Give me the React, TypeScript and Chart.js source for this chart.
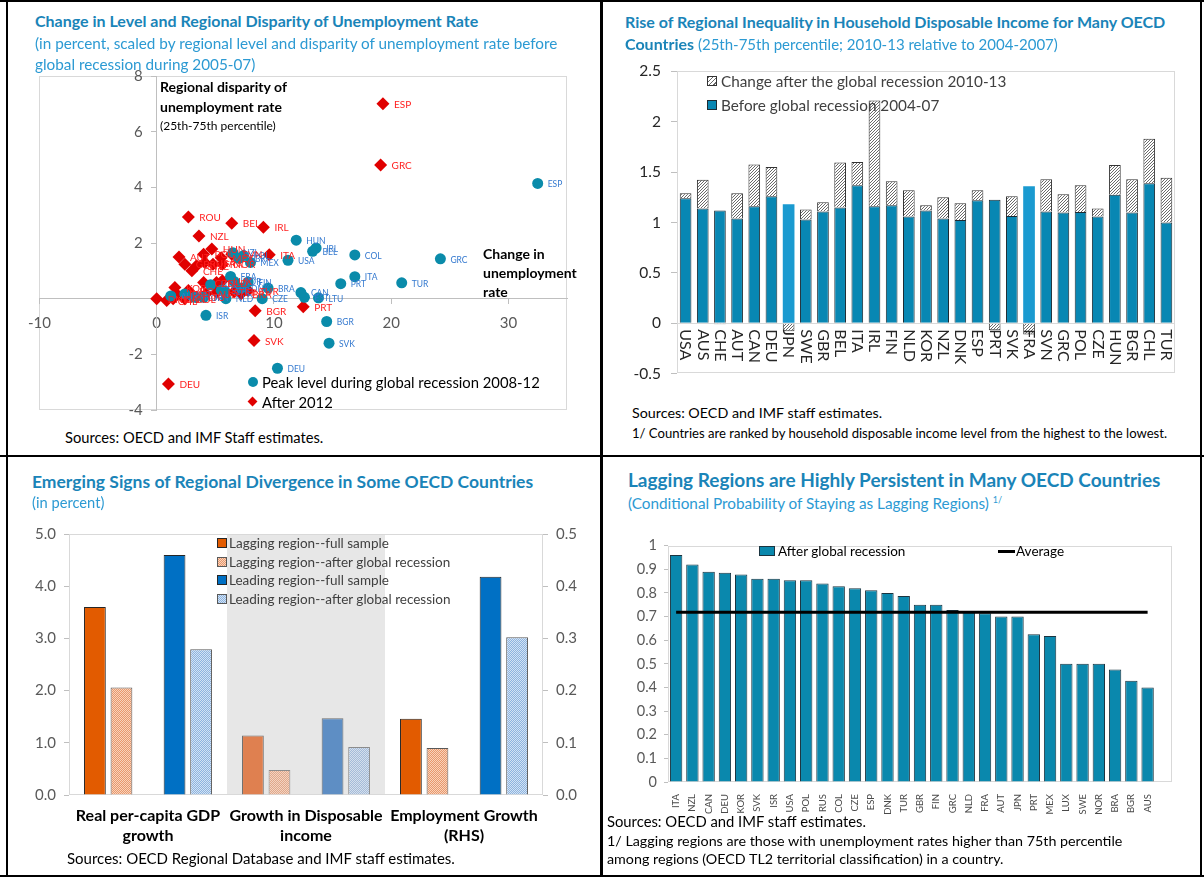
import React, { useEffect, useRef } from 'react';
import { Chart, registerables } from 'chart.js';

Chart.register(...registerables);

const FONT = 'Lato, "Open Sans", sans-serif';
const TITLE_BLUE = '#1A84B8';
const SUB_BLUE = '#2C9AD3';

// ---------------- Panel 1: scatter ----------------
const peakCountries = ['ESP', 'GRC', 'TUR', 'COL', 'ITA', 'PRT', 'HUN', 'IRL', 'BEL', 'USA', 'LTU', 'EST', 'CAN', 'BRA', 'CZE', 'FIN', 'MEX', 'NZL', 'POL', 'GBR', 'NLD', 'JPN', 'SWE', 'KOR', 'CHE', 'DNK', 'FRA', 'AUT', 'AUS', 'NOR', 'LUX', 'ISR', 'BGR', 'SVK', 'DEU'];
const peakChange = [32.5, 24.2, 20.9, 16.9, 16.9, 15.7, 11.9, 13.6, 13.3, 11.2, 13.8, 12.6, 12.3, 9.5, 9.0, 7.8, 8.0, 6.5, 7.4, 7.0, 5.9, 4.0, 5.5, 6.6, 5.8, 7.2, 6.3, 2.4, 1.2, 3.2, 4.6, 4.2, 14.5, 14.7, 10.3];
const peakDisparity = [4.14, 1.43, 0.57, 1.57, 0.79, 0.54, 2.1, 1.82, 1.7, 1.38, 0.03, 0.05, 0.22, 0.38, 0.0, 0.6, 1.3, 1.65, 1.55, 1.45, 0.0, 0.05, 0.3, 0.62, 0.28, 0.38, 0.8, 0.17, 0.1, 0.05, 0.5, -0.6, -0.82, -1.6, -2.5];

const afterCountries = ['ESP', 'GRC', 'ROU', 'BEL', 'IRL', 'NZL', 'ITA', 'HUN', 'AUT', 'POL', 'MEX', 'SVN', 'GBR', 'SWE', 'USA', 'FRA', 'NOR', 'CHE', 'CZE', 'NLD', 'LUX', 'FIN', 'TUR', 'KOR', 'JPN', 'ISR', 'AUS', 'EST', 'DNK', 'CHL', 'CAN', 'COL', 'LTU', 'BRA', 'BGR', 'PRT', 'SVK', 'DEU'];
const afterChange = [19.3, 19.1, 2.7, 6.4, 9.1, 3.6, 9.6, 4.7, 1.9, 4.0, 5.5, 6.4, 2.4, 3.4, 4.1, 4.8, 5.6, 3.0, 4.0, 5.1, 5.6, 6.6, 7.8, 1.55, 1.7, 2.7, 4.2, 5.1, 0.0, 0.85, 1.4, 2.4, 3.4, 7.2, 8.4, 12.5, 8.3, 1.0];
const afterDisparity = [7.0, 4.8, 2.93, 2.71, 2.57, 2.25, 1.58, 1.78, 1.5, 1.6, 1.47, 1.6, 1.24, 1.18, 1.3, 1.24, 1.24, 1.0, 0.58, 0.58, 0.64, 0.25, 0.29, 0.4, 0.17, 0.29, 0.17, 0.23, 0.0, -0.07, 0.0, 0.0, 0.05, 0.18, -0.43, -0.29, -1.5, -3.07];

// ---------------- Panel 2: stacked bars ----------------
const incomeCountries = ['USA', 'AUS', 'CHE', 'AUT', 'CAN', 'DEU', 'JPN', 'SWE', 'GBR', 'BEL', 'ITA', 'IRL', 'FIN', 'NLD', 'KOR', 'NZL', 'DNK', 'ESP', 'PRT', 'SVK', 'FRA', 'SVN', 'GRC', 'POL', 'CZE', 'HUN', 'BGR', 'CHL', 'TUR'];
const incomeBefore = [1.24, 1.14, 1.12, 1.04, 1.16, 1.26, 1.18, 1.03, 1.11, 1.15, 1.37, 1.16, 1.17, 1.06, 1.12, 1.04, 1.025, 1.22, 1.225, 1.065, 1.36, 1.11, 1.10, 1.105, 1.06, 1.275, 1.10, 1.39, 1.0];
const incomeChange = [0.05, 0.285, -0.01, 0.25, 0.415, 0.29, -0.08, 0.10, 0.09, 0.445, 0.23, 1.05, 0.24, 0.26, 0.05, 0.21, 0.165, 0.10, -0.07, 0.195, -0.11, 0.32, 0.18, 0.265, 0.08, 0.295, 0.33, 0.44, 0.445];
const incomeLightBars = ['JPN', 'FRA'];

// ---------------- Panel 3: grouped bars ----------------
const divergenceCategories = [['Real per-capita GDP', 'growth'], ['Growth in Disposable', 'income'], ['Employment Growth', '(RHS)']];
const lagFullLHS = [3.6, 1.14];
const lagAfterLHS = [2.06, 0.48];
const leadFullLHS = [4.6, 1.47];
const leadAfterLHS = [2.79, 0.92];
const lagFullRHS = 0.146;
const lagAfterRHS = 0.09;
const leadFullRHS = 0.418;
const leadAfterRHS = 0.302;

// ---------------- Panel 4: bars + average ----------------
const lagCountries = ['ITA', 'NZL', 'CAN', 'DEU', 'KOR', 'SVK', 'ISR', 'USA', 'POL', 'RUS', 'COL', 'CZE', 'ESP', 'DNK', 'TUR', 'GBR', 'FIN', 'GRC', 'NLD', 'FRA', 'AUT', 'JPN', 'PRT', 'MEX', 'LUX', 'SWE', 'NOR', 'BRA', 'BGR', 'AUS'];
const lagProb = [0.961, 0.92, 0.89, 0.885, 0.878, 0.86, 0.86, 0.854, 0.854, 0.84, 0.828, 0.82, 0.811, 0.80, 0.787, 0.75, 0.75, 0.728, 0.72, 0.714, 0.70, 0.70, 0.625, 0.618, 0.50, 0.50, 0.50, 0.476, 0.429, 0.40];
const lagAverage = 0.718;

// ---------------- helpers ----------------
function makePattern(bg: string, fg: string, kind: 'diag' | 'dots'): CanvasPattern {
  const c = document.createElement('canvas');
  const s = kind === 'diag' ? 3 : 2;
  c.width = s;
  c.height = s;
  const g = c.getContext('2d')!;
  g.fillStyle = bg;
  g.fillRect(0, 0, s, s);
  g.fillStyle = fg;
  if (kind === 'diag') {
    for (let i = 0; i < s; i++) g.fillRect(i, s - 1 - i, 1, 1);
  } else {
    g.fillRect(0, 0, 1, 1);
    g.fillRect(1, 1, 1, 1);
  }
  return g.createPattern(c, 'repeat')!;
}

const num = (v: number) => String(Math.round(v * 10) / 10);

const framePlugin = {
  id: 'frame',
  beforeDraw(chart: any, _a: any, opts: any) {
    const { ctx, chartArea: a } = chart;
    ctx.save();
    ctx.strokeStyle = opts.color || '#D9D9D9';
    ctx.lineWidth = 1;
    ctx.strokeRect(Math.round(a.left) + 0.5, Math.round(a.top) + 0.5, Math.round(a.width) - 1, Math.round(a.height) - 1);
    ctx.restore();
  },
};

const pointLabelPlugin = {
  id: 'pointLabels',
  afterDatasetsDraw(chart: any) {
    const ctx = chart.ctx;
    chart.data.datasets.forEach((ds: any, i: number) => {
      if (!ds.pointLabels) return;
      const meta = chart.getDatasetMeta(i);
      ctx.save();
      ctx.font = ds.labelFont;
      ctx.fillStyle = ds.labelColor;
      ctx.textBaseline = 'middle';
      ctx.textAlign = 'left';
      meta.data.forEach((el: any, j: number) => {
        ctx.fillText(ds.pointLabels[j], el.x + ds.labelOffset, el.y + 1);
      });
      ctx.restore();
    });
  },
};

// y tick labels of the centred scatter axis, placed left of the x=0 axis
const yTickLabelsPlugin = {
  id: 'yTickLabels',
  afterDraw(chart: any, _a: any, opts: any) {
    const { ctx, scales } = chart;
    const ys = scales.y;
    const x0 = scales.x.getPixelForValue(0) - opts.gap;
    ctx.save();
    ctx.font = opts.font;
    ctx.fillStyle = opts.color;
    ctx.textAlign = 'right';
    ctx.textBaseline = 'middle';
    ys.ticks.forEach((t: any) => {
      if (t.value === 0) return;
      ctx.fillText(String(t.value), x0, ys.getPixelForValue(t.value));
    });
    ctx.restore();
  },
};

const downLabelsPlugin = {
  id: 'downLabels',
  afterDatasetsDraw(chart: any, _a: any, opts: any) {
    const { ctx, scales } = chart;
    const x = scales.x;
    const y0 = scales.y.getPixelForValue(0) + opts.gap;
    ctx.save();
    ctx.font = opts.font;
    ctx.fillStyle = opts.color;
    ctx.textBaseline = 'middle';
    ctx.textAlign = 'left';
    chart.data.labels.forEach((lab: string, i: number) => {
      const px = x.getPixelForValue(i);
      ctx.save();
      ctx.translate(px, y0);
      ctx.rotate(Math.PI / 2);
      ctx.fillText(lab, 0, 0);
      ctx.restore();
    });
    ctx.restore();
  },
};

const zeroLinePlugin = {
  id: 'zeroLine',
  beforeDatasetsDraw(chart: any, _a: any, opts: any) {
    const { ctx, chartArea: a, scales } = chart;
    const y = Math.round(scales.y.getPixelForValue(0)) + 0.5;
    ctx.save();
    ctx.strokeStyle = opts.color;
    ctx.lineWidth = 1;
    ctx.beginPath();
    ctx.moveTo(a.left, y);
    ctx.lineTo(a.right, y);
    ctx.stroke();
    ctx.restore();
  },
};

const bandPlugin = {
  id: 'band',
  beforeDatasetsDraw(chart: any, _a: any, opts: any) {
    const { ctx, chartArea: a, scales } = chart;
    const w = (a.right - a.left) / chart.data.labels.length;
    const cx = scales.x.getPixelForValue(opts.index);
    ctx.save();
    ctx.fillStyle = opts.color;
    ctx.fillRect(cx - w / 2, a.top + 1, w, a.height - 2);
    ctx.restore();
  },
};

const baseOptions = {
  responsive: false,
  animation: false,
  events: [],
};

// ---------------- configs ----------------
function scatterConfig(): any {
  return {
    type: 'scatter',
    data: {
      datasets: [
        {
          label: 'Peak level during global recession 2008-12',
          data: peakCountries.map((_, i) => ({ x: peakChange[i], y: peakDisparity[i] })),
          pointStyle: 'circle',
          pointRadius: 5.5,
          backgroundColor: '#0A8BAA',
          borderWidth: 0,
          pointLabels: peakCountries,
          labelColor: '#3479CF',
          labelFont: `8.5px ${FONT}`,
          labelOffset: 10,
        },
        {
          label: 'After 2012',
          data: afterCountries.map((_, i) => ({ x: afterChange[i], y: afterDisparity[i] })),
          pointStyle: 'rectRot',
          pointRadius: 6.5,
          backgroundColor: '#E00000',
          borderWidth: 0,
          pointLabels: afterCountries,
          labelColor: '#FF1F1F',
          labelFont: `10px ${FONT}`,
          labelOffset: 11,
        },
      ],
    },
    options: {
      ...baseOptions,
      layout: { padding: 10 },
      plugins: {
        legend: { display: false },
        tooltip: { enabled: false },
        frame: { color: '#D9D9D9' },
        yTickLabels: { gap: 14, font: `15px ${FONT}`, color: '#595959' },
      },
      scales: {
        x: {
          type: 'linear',
          position: { y: 0 },
          min: -10,
          max: 35,
          ticks: { stepSize: 10, includeBounds: false, color: '#595959', font: { family: FONT, size: 15 }, padding: 10 },
          grid: { drawOnChartArea: false, tickLength: 5, color: '#BFBFBF' },
          border: { color: '#BFBFBF' },
        },
        y: {
          type: 'linear',
          position: { x: 0 },
          min: -4,
          max: 8,
          ticks: {
            stepSize: 2,
            includeBounds: false,
            color: 'rgba(0,0,0,0)',
            font: { family: FONT, size: 15 },
            padding: 9,
          },
          grid: { drawOnChartArea: false, tickLength: 5, color: '#BFBFBF' },
          border: { color: '#BFBFBF' },
        },
      },
    },
    plugins: [framePlugin, pointLabelPlugin, yTickLabelsPlugin],
  };
}

function incomeConfig(): any {
  const hatch = makePattern('#FFFFFF', '#6A6A6A', 'diag');
  return {
    type: 'bar',
    data: {
      labels: incomeCountries,
      datasets: [
        {
          label: 'Before global recession 2004-07',
          data: incomeBefore,
          backgroundColor: incomeCountries.map((c) => (incomeLightBars.includes(c) ? '#1A9AD0' : '#0887B3')),
          borderColor: '#1D2B33',
          borderWidth: incomeCountries.map((c) => (incomeLightBars.includes(c) ? 0 : 1)),
        },
        {
          label: 'Change after the global recession 2010-13',
          data: incomeChange,
          backgroundColor: hatch,
          borderColor: '#333333',
          borderWidth: 1,
        },
      ],
    },
    options: {
      ...baseOptions,
      layout: { padding: { top: 10, right: 10, bottom: 10, left: 0 } },
      datasets: { bar: { barPercentage: 0.68, categoryPercentage: 1 } },
      plugins: {
        legend: { display: false },
        tooltip: { enabled: false },
        frame: { color: '#D9D9D9' },
        zeroLine: { color: '#D9D9D9' },
        downLabels: { gap: 6, font: `16px ${FONT}`, color: '#262626' },
      },
      scales: {
        x: { display: false, stacked: true },
        y: {
          stacked: true,
          min: -0.5,
          max: 2.5,
          ticks: { stepSize: 0.5, color: '#262626', font: { family: FONT, size: 15.5 }, padding: 10, callback: (v: number) => num(v) },
          grid: { drawOnChartArea: false, tickLength: 6, color: '#BFBFBF' },
          border: { display: false },
          afterFit: (s: any) => {
            s.width = 57;
          },
        },
      },
    },
    plugins: [framePlugin, zeroLinePlugin, downLabelsPlugin],
  };
}

function divergenceConfig(): any {
  const lagAfterPat = makePattern('#F9D3BC', '#E8986C', 'dots');
  const leadAfterPat = makePattern('#D3E3F4', '#8DB3DF', 'dots');
  const lagAfterPatMid = makePattern('#F3D3C2', '#E0A88A', 'dots');
  const leadAfterPatMid = makePattern('#D5DFEC', '#A4BBD9', 'dots');
  const lhs = (vals: number[]) => [vals[0], vals[1], null];
  const rhs = (v: number) => [null, null, v];
  const common = { borderWidth: 1 };
  return {
    type: 'bar',
    data: {
      labels: divergenceCategories,
      datasets: [
        { ...common, label: 'Lagging region--full sample', stack: 'a', yAxisID: 'y', data: lhs(lagFullLHS), backgroundColor: ['#E25B00', '#DF8050'], borderColor: ['#262626', '#6E6E6E'] },
        { ...common, label: 'Lagging region--after global recession', stack: 'b', yAxisID: 'y', data: lhs(lagAfterLHS), backgroundColor: [lagAfterPat, lagAfterPatMid], borderColor: ['#595959', '#8C8C8C'] },
        { ...common, label: 'gap', stack: 'g', yAxisID: 'y', data: [null, null, null] },
        { ...common, label: 'Leading region--full sample', stack: 'c', yAxisID: 'y', data: lhs(leadFullLHS), backgroundColor: ['#0070C4', '#5E8EC4'], borderColor: ['#262626', '#6E6E6E'] },
        { ...common, label: 'Leading region--after global recession', stack: 'd', yAxisID: 'y', data: lhs(leadAfterLHS), backgroundColor: [leadAfterPat, leadAfterPatMid], borderColor: ['#595959', '#8C8C8C'] },
        { ...common, label: 'Lagging region--full sample (RHS)', stack: 'a', yAxisID: 'y2', data: rhs(lagFullRHS), backgroundColor: '#E25B00', borderColor: '#262626' },
        { ...common, label: 'Lagging region--after global recession (RHS)', stack: 'b', yAxisID: 'y2', data: rhs(lagAfterRHS), backgroundColor: lagAfterPat, borderColor: '#595959' },
        { ...common, label: 'Leading region--full sample (RHS)', stack: 'c', yAxisID: 'y2', data: rhs(leadFullRHS), backgroundColor: '#0070C4', borderColor: '#262626' },
        { ...common, label: 'Leading region--after global recession (RHS)', stack: 'd', yAxisID: 'y2', data: rhs(leadAfterRHS), backgroundColor: leadAfterPat, borderColor: '#595959' },
      ],
    },
    options: {
      ...baseOptions,
      layout: { padding: { top: 10, right: 0, bottom: 0, left: 0 } },
      datasets: { bar: { barPercentage: 0.82, categoryPercentage: 0.84 } },
      plugins: {
        legend: { display: false },
        tooltip: { enabled: false },
        frame: { color: '#D9D9D9' },
        band: { index: 1, color: '#E7E7E7' },
      },
      scales: {
        x: {
          ticks: { color: '#000000', font: { family: FONT, size: 16, weight: 'bold', lineHeight: 1.25 }, padding: 3, maxRotation: 0 },
          grid: { display: false },
          border: { display: false },
          afterFit: (s: any) => {
            s.height = 60;
          },
        },
        y: {
          position: 'left',
          min: 0,
          max: 5,
          ticks: { stepSize: 1, color: '#595959', font: { family: FONT, size: 15 }, padding: 8, callback: (v: number) => v.toFixed(1) },
          grid: { drawOnChartArea: false, tickLength: 5, color: '#BFBFBF' },
          border: { display: false },
          afterFit: (s: any) => {
            s.width = 49;
          },
        },
        y2: {
          position: 'right',
          min: 0,
          max: 0.5,
          ticks: { stepSize: 0.1, color: '#595959', font: { family: FONT, size: 15 }, padding: 8, callback: (v: number) => v.toFixed(1) },
          grid: { drawOnChartArea: false, tickLength: 5, color: '#BFBFBF' },
          border: { display: false },
          afterFit: (s: any) => {
            s.width = 45;
          },
        },
      },
    },
    plugins: [framePlugin, bandPlugin],
  };
}

function laggingConfig(): any {
  return {
    type: 'bar',
    data: {
      labels: [...lagCountries, ''],
      datasets: [
        {
          type: 'line',
          label: 'Average',
          data: [...lagCountries.map(() => lagAverage), null],
          borderColor: '#000000',
          borderWidth: 3,
          pointRadius: 0,
          order: 0,
        },
        {
          type: 'bar',
          label: 'After global recession',
          data: [...lagProb, null],
          backgroundColor: '#0A88AD',
          borderColor: '#1B3440',
          borderWidth: 1,
          barPercentage: 0.76,
          categoryPercentage: 1,
          order: 1,
        },
      ],
    },
    options: {
      ...baseOptions,
      layout: { padding: { top: 10, right: 10, bottom: 0, left: 0 } },
      plugins: { legend: { display: false }, tooltip: { enabled: false }, frame: { color: '#D9D9D9' } },
      scales: {
        x: {
          ticks: { minRotation: 90, maxRotation: 90, autoSkip: false, color: '#4A4A4A', font: { family: FONT, size: 9.5 }, padding: 4 },
          grid: { display: false },
          border: { display: false },
          afterFit: (s: any) => {
            s.height = 40;
          },
        },
        y: {
          min: 0,
          max: 1,
          ticks: { stepSize: 0.1, color: '#595959', font: { family: FONT, size: 14.5 }, padding: 7, callback: (v: number) => num(v) },
          grid: { drawOnChartArea: false, tickLength: 4, color: '#BFBFBF' },
          border: { display: false },
          afterFit: (s: any) => {
            s.width = 48;
          },
        },
      },
    },
    plugins: [framePlugin],
  };
}

// ---------------- components ----------------
function ChartBox({ left, top, width, height, make }: { left: number; top: number; width: number; height: number; make: () => any }) {
  const ref = useRef<HTMLCanvasElement>(null);
  useEffect(() => {
    const chart = new Chart(ref.current!, make());
    return () => chart.destroy();
  }, []);
  return <canvas ref={ref} width={width} height={height} style={{ position: 'absolute', left, top, width, height }} />;
}

function T({ x, cy, size, bold, color, children }: { x: number; cy: number; size: number; bold?: boolean; color?: string; children: any }) {
  const h = Math.round(size * 1.3);
  return (
    <div
      style={{
        position: 'absolute',
        left: x,
        top: cy - h / 2,
        height: h,
        lineHeight: h + 'px',
        fontFamily: FONT,
        fontSize: size,
        fontWeight: bold ? 700 : 400,
        color: color || '#262626',
        whiteSpace: 'nowrap',
      }}
    >
      {children}
    </div>
  );
}

function Swatch({ x, cy, w, h, bg, border }: { x: number; cy: number; w: number; h: number; bg: string; border?: string }) {
  return <div style={{ position: 'absolute', left: x, top: cy - h / 2, width: w, height: h, background: bg, border: border ? `1px solid ${border}` : 'none', boxSizing: 'border-box' }} />;
}

function Line({ x, y, w, h }: { x: number; y: number; w: number; h: number }) {
  return <div style={{ position: 'absolute', left: x, top: y, width: w, height: h, background: '#000' }} />;
}

export default function App() {
  const hatchCss = 'repeating-linear-gradient(135deg, #6A6A6A 0 1px, #FFFFFF 1px 3px)';
  const dotsOrange = 'repeating-conic-gradient(#E8986C 0 25%, #F9D3BC 0 50%) 0 0/2px 2px';
  const dotsBlue = 'repeating-conic-gradient(#8DB3DF 0 25%, #D3E3F4 0 50%) 0 0/2px 2px';
  return (
    <div style={{ position: 'absolute', left: 0, top: 0, width: 1204, height: 877, background: '#FFFFFF', overflow: 'hidden' }}>
      {/* borders */}
      <Line x={0} y={0} w={1204} h={2} />
      <Line x={6} y={0} w={2} h={877} />
      <Line x={600} y={0} w={3} h={877} />
      <Line x={0} y={455} w={1204} h={2} />
      <Line x={1200} y={0} w={2} h={877} />
      <Line x={0} y={875} w={1204} h={2} />

      {/* Panel 1 */}
      <ChartBox left={18} top={58} width={559} height={370} make={scatterConfig} />
      <T x={35} cy={20} size={16} bold color={TITLE_BLUE}>Change in Level and Regional Disparity of Unemployment Rate</T>
      <T x={35} cy={43} size={15.3} color={SUB_BLUE}>(in percent, scaled by regional level and disparity of unemployment rate before</T>
      <T x={35} cy={64} size={15.3} color={SUB_BLUE}>global recession during 2005-07)</T>
      <T x={160} cy={87} size={14} bold color="#000">Regional disparity of</T>
      <T x={160} cy={107} size={14} bold color="#000">unemployment rate</T>
      <T x={160} cy={126} size={12} color="#000">(25th-75th percentile)</T>
      <T x={483} cy={254} size={14} bold color="#000">Change in</T>
      <T x={483} cy={273} size={14} bold color="#000">unemployment</T>
      <T x={483} cy={292} size={14} bold color="#000">rate</T>
      <div style={{ position: 'absolute', left: 248, top: 377, width: 10, height: 10, borderRadius: 5, background: '#0A8BAA' }} />
      <T x={262} cy={382} size={14.8} color="#000">Peak level during global recession 2008-12</T>
      <div style={{ position: 'absolute', left: 249, top: 398, width: 7, height: 7, background: '#E00000', transform: 'rotate(45deg)' }} />
      <T x={262} cy={402} size={14.8} color="#000">After 2012</T>
      <T x={65} cy={437} size={14.7} color="#000">Sources: OECD and IMF Staff estimates.</T>

      {/* Panel 2 */}
      <ChartBox left={620} top={52} width={565} height={341} make={incomeConfig} />
      <T x={625} cy={21} size={16} bold color={TITLE_BLUE}>Rise of Regional Inequality in Household Disposable Income for Many OECD</T>
      <T x={625} cy={44} size={15} color={SUB_BLUE}>
        <span style={{ fontWeight: 700, color: TITLE_BLUE, fontSize: 16 }}>Countries</span> (25th-75th percentile; 2010-13 relative to 2004-2007)
      </T>
      <Swatch x={707} cy={81} w={10} h={10} bg={hatchCss} border="#333" />
      <T x={721} cy={81} size={15.3} color="#404040">Change after the global recession 2010-13</T>
      <Swatch x={707} cy={105} w={10} h={10} bg="#0887B3" border="#1D2B33" />
      <T x={721} cy={105} size={15.3} color="#404040">Before global recession 2004-07</T>
      <T x={632} cy={412} size={14.3} color="#000">Sources: OECD and IMF staff estimates.</T>
      <T x={632} cy={433} size={13.1} color="#000">1/ Countries are ranked by household disposable income level from the highest to the lowest.</T>

      {/* Panel 3 */}
      <ChartBox left={20} top={517} width={568} height={338} make={divergenceConfig} />
      <T x={32} cy={481} size={17.5} bold color={TITLE_BLUE}>Emerging Signs of Regional Divergence in Some OECD Countries</T>
      <T x={32} cy={502} size={14.7} color={SUB_BLUE}>(in percent)</T>
      <Swatch x={217} cy={543} w={10} h={10} bg="#E25B00" border="#262626" />
      <T x={229} cy={543} size={13.5} color="#404040">Lagging region--full sample</T>
      <Swatch x={217} cy={562} w={10} h={10} bg={dotsOrange} border="#595959" />
      <T x={229} cy={562} size={13.5} color="#404040">Lagging region--after global recession</T>
      <Swatch x={217} cy={580} w={10} h={10} bg="#0070C4" border="#262626" />
      <T x={229} cy={580} size={13.5} color="#404040">Leading region--full sample</T>
      <Swatch x={217} cy={599} w={10} h={10} bg={dotsBlue} border="#595959" />
      <T x={229} cy={599} size={13.5} color="#404040">Leading region--after global recession</T>
      <T x={67} cy={858} size={15} color="#000">Sources: OECD Regional Database and IMF staff estimates.</T>

      {/* Panel 4 */}
      <ChartBox left={620} top={530} width={562} height={292} make={laggingConfig} />
      <T x={628} cy={479} size={19} bold color={TITLE_BLUE}>Lagging Regions are Highly Persistent in Many OECD Countries</T>
      <T x={628} cy={500} size={15.3} color={SUB_BLUE}>
        (Conditional Probability of Staying as Lagging Regions) <sup style={{ fontSize: 9 }}>1/</sup>
      </T>
      <Swatch x={759} cy={551} w={16} h={10} bg="#0A88AD" border="#1B3440" />
      <T x={778} cy={551} size={13.5} color="#000">After global recession</T>
      <div style={{ position: 'absolute', left: 998, top: 550, width: 17, height: 3, background: '#000' }} />
      <T x={1016} cy={551} size={13.5} color="#000">Average</T>
      <T x={607} cy={821} size={14.8} color="#000">Sources: OECD and IMF staff estimates.</T>
      <T x={607} cy={840} size={14.3} color="#000">1/ Lagging regions are those with unemployment rates higher than 75th percentile</T>
      <T x={607} cy={858} size={14.3} color="#000">among regions (OECD TL2 territorial classification) in a country.</T>
    </div>
  );
}
